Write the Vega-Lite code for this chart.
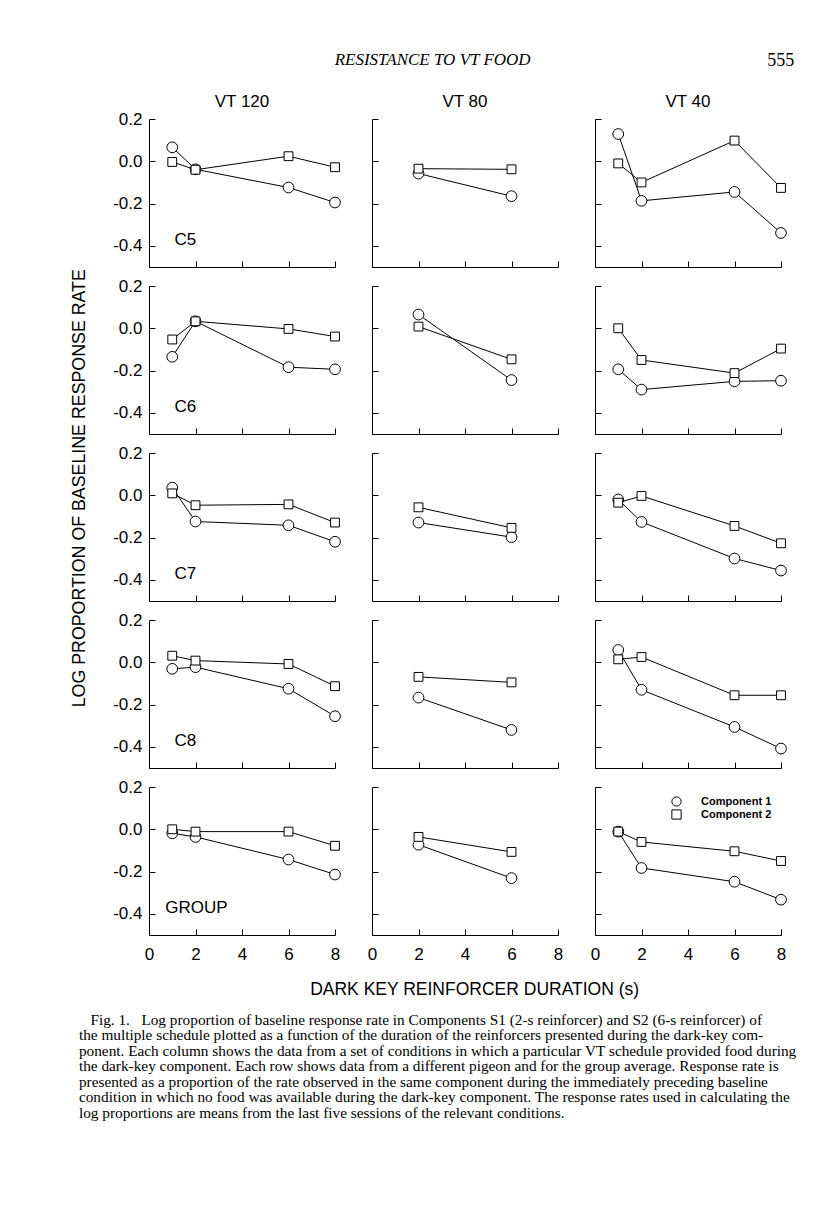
{
"$schema": "https://vega.github.io/schema/vega-lite/v6.json",
"autosize": {"type": "pad"},
"padding": {"left": 70, "top": 50, "right": 10, "bottom": 10},
"background": "white",
"datasets": {"pts": [
{"bird":"C5","vt":"VT 120","comp":"Component 1","dur":1,"lp":0.066},{"bird":"C5","vt":"VT 120","comp":"Component 1","dur":2,"lp":-0.038},{"bird":"C5","vt":"VT 120","comp":"Component 1","dur":6,"lp":-0.124},{"bird":"C5","vt":"VT 120","comp":"Component 1","dur":8,"lp":-0.195},
{"bird":"C5","vt":"VT 120","comp":"Component 2","dur":1,"lp":-0.003},{"bird":"C5","vt":"VT 120","comp":"Component 2","dur":2,"lp":-0.04},{"bird":"C5","vt":"VT 120","comp":"Component 2","dur":6,"lp":0.024},{"bird":"C5","vt":"VT 120","comp":"Component 2","dur":8,"lp":-0.028},
{"bird":"C5","vt":"VT 80","comp":"Component 1","dur":2,"lp":-0.058},{"bird":"C5","vt":"VT 80","comp":"Component 1","dur":6,"lp":-0.165},
{"bird":"C5","vt":"VT 80","comp":"Component 2","dur":2,"lp":-0.035},{"bird":"C5","vt":"VT 80","comp":"Component 2","dur":6,"lp":-0.038},
{"bird":"C5","vt":"VT 40","comp":"Component 1","dur":1,"lp":0.129},{"bird":"C5","vt":"VT 40","comp":"Component 1","dur":2,"lp":-0.187},{"bird":"C5","vt":"VT 40","comp":"Component 1","dur":6,"lp":-0.145},{"bird":"C5","vt":"VT 40","comp":"Component 1","dur":8,"lp":-0.339},
{"bird":"C5","vt":"VT 40","comp":"Component 2","dur":1,"lp":-0.01},{"bird":"C5","vt":"VT 40","comp":"Component 2","dur":2,"lp":-0.1},{"bird":"C5","vt":"VT 40","comp":"Component 2","dur":6,"lp":0.098},{"bird":"C5","vt":"VT 40","comp":"Component 2","dur":8,"lp":-0.126},
{"bird":"C6","vt":"VT 120","comp":"Component 1","dur":1,"lp":-0.135},{"bird":"C6","vt":"VT 120","comp":"Component 1","dur":2,"lp":0.033},{"bird":"C6","vt":"VT 120","comp":"Component 1","dur":6,"lp":-0.184},{"bird":"C6","vt":"VT 120","comp":"Component 1","dur":8,"lp":-0.194},
{"bird":"C6","vt":"VT 120","comp":"Component 2","dur":1,"lp":-0.053},{"bird":"C6","vt":"VT 120","comp":"Component 2","dur":2,"lp":0.033},{"bird":"C6","vt":"VT 120","comp":"Component 2","dur":6,"lp":-0.003},{"bird":"C6","vt":"VT 120","comp":"Component 2","dur":8,"lp":-0.039},
{"bird":"C6","vt":"VT 80","comp":"Component 1","dur":2,"lp":0.065},{"bird":"C6","vt":"VT 80","comp":"Component 1","dur":6,"lp":-0.245},
{"bird":"C6","vt":"VT 80","comp":"Component 2","dur":2,"lp":0.008},{"bird":"C6","vt":"VT 80","comp":"Component 2","dur":6,"lp":-0.147},
{"bird":"C6","vt":"VT 40","comp":"Component 1","dur":1,"lp":-0.194},{"bird":"C6","vt":"VT 40","comp":"Component 1","dur":2,"lp":-0.29},{"bird":"C6","vt":"VT 40","comp":"Component 1","dur":6,"lp":-0.251},{"bird":"C6","vt":"VT 40","comp":"Component 1","dur":8,"lp":-0.248},
{"bird":"C6","vt":"VT 40","comp":"Component 2","dur":1,"lp":0.0},{"bird":"C6","vt":"VT 40","comp":"Component 2","dur":2,"lp":-0.15},{"bird":"C6","vt":"VT 40","comp":"Component 2","dur":6,"lp":-0.212},{"bird":"C6","vt":"VT 40","comp":"Component 2","dur":8,"lp":-0.096},
{"bird":"C7","vt":"VT 120","comp":"Component 1","dur":1,"lp":0.036},{"bird":"C7","vt":"VT 120","comp":"Component 1","dur":2,"lp":-0.124},{"bird":"C7","vt":"VT 120","comp":"Component 1","dur":6,"lp":-0.142},{"bird":"C7","vt":"VT 120","comp":"Component 1","dur":8,"lp":-0.22},
{"bird":"C7","vt":"VT 120","comp":"Component 2","dur":1,"lp":0.009},{"bird":"C7","vt":"VT 120","comp":"Component 2","dur":2,"lp":-0.047},{"bird":"C7","vt":"VT 120","comp":"Component 2","dur":6,"lp":-0.043},{"bird":"C7","vt":"VT 120","comp":"Component 2","dur":8,"lp":-0.129},
{"bird":"C7","vt":"VT 80","comp":"Component 1","dur":2,"lp":-0.129},{"bird":"C7","vt":"VT 80","comp":"Component 1","dur":6,"lp":-0.198},
{"bird":"C7","vt":"VT 80","comp":"Component 2","dur":2,"lp":-0.057},{"bird":"C7","vt":"VT 80","comp":"Component 2","dur":6,"lp":-0.154},
{"bird":"C7","vt":"VT 40","comp":"Component 1","dur":1,"lp":-0.02},{"bird":"C7","vt":"VT 40","comp":"Component 1","dur":2,"lp":-0.126},{"bird":"C7","vt":"VT 40","comp":"Component 1","dur":6,"lp":-0.299},{"bird":"C7","vt":"VT 40","comp":"Component 1","dur":8,"lp":-0.356},
{"bird":"C7","vt":"VT 40","comp":"Component 2","dur":1,"lp":-0.035},{"bird":"C7","vt":"VT 40","comp":"Component 2","dur":2,"lp":-0.003},{"bird":"C7","vt":"VT 40","comp":"Component 2","dur":6,"lp":-0.145},{"bird":"C7","vt":"VT 40","comp":"Component 2","dur":8,"lp":-0.227},
{"bird":"C8","vt":"VT 120","comp":"Component 1","dur":1,"lp":-0.031},{"bird":"C8","vt":"VT 120","comp":"Component 1","dur":2,"lp":-0.023},{"bird":"C8","vt":"VT 120","comp":"Component 1","dur":6,"lp":-0.125},{"bird":"C8","vt":"VT 120","comp":"Component 1","dur":8,"lp":-0.255},
{"bird":"C8","vt":"VT 120","comp":"Component 2","dur":1,"lp":0.031},{"bird":"C8","vt":"VT 120","comp":"Component 2","dur":2,"lp":0.008},{"bird":"C8","vt":"VT 120","comp":"Component 2","dur":6,"lp":-0.008},{"bird":"C8","vt":"VT 120","comp":"Component 2","dur":8,"lp":-0.113},
{"bird":"C8","vt":"VT 80","comp":"Component 1","dur":2,"lp":-0.167},{"bird":"C8","vt":"VT 80","comp":"Component 1","dur":6,"lp":-0.32},
{"bird":"C8","vt":"VT 80","comp":"Component 2","dur":2,"lp":-0.069},{"bird":"C8","vt":"VT 80","comp":"Component 2","dur":6,"lp":-0.095},
{"bird":"C8","vt":"VT 40","comp":"Component 1","dur":1,"lp":0.058},{"bird":"C8","vt":"VT 40","comp":"Component 1","dur":2,"lp":-0.13},{"bird":"C8","vt":"VT 40","comp":"Component 1","dur":6,"lp":-0.306},{"bird":"C8","vt":"VT 40","comp":"Component 1","dur":8,"lp":-0.408},
{"bird":"C8","vt":"VT 40","comp":"Component 2","dur":1,"lp":0.014},{"bird":"C8","vt":"VT 40","comp":"Component 2","dur":2,"lp":0.025},{"bird":"C8","vt":"VT 40","comp":"Component 2","dur":6,"lp":-0.156},{"bird":"C8","vt":"VT 40","comp":"Component 2","dur":8,"lp":-0.156},
{"bird":"GROUP","vt":"VT 120","comp":"Component 1","dur":1,"lp":-0.019},{"bird":"GROUP","vt":"VT 120","comp":"Component 1","dur":2,"lp":-0.036},{"bird":"GROUP","vt":"VT 120","comp":"Component 1","dur":6,"lp":-0.143},{"bird":"GROUP","vt":"VT 120","comp":"Component 1","dur":8,"lp":-0.214},
{"bird":"GROUP","vt":"VT 120","comp":"Component 2","dur":1,"lp":0.0},{"bird":"GROUP","vt":"VT 120","comp":"Component 2","dur":2,"lp":-0.011},{"bird":"GROUP","vt":"VT 120","comp":"Component 2","dur":6,"lp":-0.011},{"bird":"GROUP","vt":"VT 120","comp":"Component 2","dur":8,"lp":-0.078},
{"bird":"GROUP","vt":"VT 80","comp":"Component 1","dur":2,"lp":-0.073},{"bird":"GROUP","vt":"VT 80","comp":"Component 1","dur":6,"lp":-0.231},
{"bird":"GROUP","vt":"VT 80","comp":"Component 2","dur":2,"lp":-0.036},{"bird":"GROUP","vt":"VT 80","comp":"Component 2","dur":6,"lp":-0.107},
{"bird":"GROUP","vt":"VT 40","comp":"Component 1","dur":1,"lp":-0.011},{"bird":"GROUP","vt":"VT 40","comp":"Component 1","dur":2,"lp":-0.183},{"bird":"GROUP","vt":"VT 40","comp":"Component 1","dur":6,"lp":-0.248},{"bird":"GROUP","vt":"VT 40","comp":"Component 1","dur":8,"lp":-0.333},
{"bird":"GROUP","vt":"VT 40","comp":"Component 2","dur":1,"lp":-0.011},{"bird":"GROUP","vt":"VT 40","comp":"Component 2","dur":2,"lp":-0.06},{"bird":"GROUP","vt":"VT 40","comp":"Component 2","dur":6,"lp":-0.104},{"bird":"GROUP","vt":"VT 40","comp":"Component 2","dur":8,"lp":-0.15}
]},
"config": {
 "view": {"stroke": null},
 "axis": {"domainColor": "black", "domainWidth": 1, "tickColor": "black", "tickWidth": 1, "tickSize": -6, "grid": false, "labelFont": "Liberation Sans", "labelFontSize": 17, "labelColor": "black", "labelFlush": false, "labelOverlap": false, "minExtent": 0},
 "axisY": {"labelPadding": 13},
 "axisX": {"labelPadding": 17},
 "title": {"font": "Liberation Sans", "fontSize": 17, "fontWeight": "normal", "color": "black"},
 "line": {"color": "black", "strokeWidth": 1},
 "text": {"font": "Liberation Sans", "fontSize": 17, "color": "black", "align": "left", "baseline": "middle"}
},
"title": {"text": [
 "\u200b\u00a0\u00a0\u00a0Fig. 1.\u00a0\u00a0 Log proportion of baseline response rate in Components S1 (2-s reinforcer) and S2 (6-s reinforcer) of",
 "the multiple schedule plotted as a function of the duration of the reinforcers presented during the dark-key com-",
 "ponent. Each column shows the data from a set of conditions in which a particular VT schedule provided food during",
 "the dark-key component. Each row shows data from a different pigeon and for the group average. Response rate is",
 "presented as a proportion of the rate observed in the same component during the immediately preceding baseline",
 "condition in which no food was available during the dark-key component. The response rates used in calculating the",
 "log proportions are means from the last five sessions of the relevant conditions."],
 "orient": "bottom", "anchor": "start", "font": "Liberation Serif", "fontSize": 15.3, "lineHeight": 15.5, "offset": 14, "dx": 8},
"vconcat": [{
 "title": {"text": "RESISTANCE TO VT FOOD", "anchor": "middle", "font": "Liberation Serif", "fontStyle": "italic", "fontSize": 17, "offset": 0, "dy": 17},
 "vconcat": [{
  "title": {"text": "555", "anchor": "end", "font": "Liberation Serif", "fontSize": 18, "offset": 23, "dx": 6},
  "vconcat": [{
   "title": {"text": "DARK KEY REINFORCER DURATION (s)", "orient": "bottom", "anchor": "middle", "fontSize": 17.5, "offset": 19, "dx": 45},
   "vconcat": [{
    "title": {"text": "LOG PROPORTION OF BASELINE RESPONSE RATE", "orient": "left", "anchor": "middle", "fontSize": 17.8, "offset": 24, "dx": 39},
    "columns": 3,
    "spacing": {"row": 19, "column": 37},
    "bounds": "flush",
    "resolve": {"scale": {"shape": "independent", "size": "independent"}, "legend": {"shape": "independent", "size": "independent"}},
    "concat": [
     {"width": 186, "height": 148, "title": {"text": "VT 120", "offset": -1},
      "data": {"name": "pts"}, "transform": [{"filter": "datum.bird==='C5' && datum.vt==='VT 120'"}],
      "encoding": {
       "x": {"field": "dur", "type": "quantitative", "scale": {"domain": [0, 8], "nice": false, "zero": false}, "axis": {"values": [0, 2, 4, 6, 8], "labels": false, "title": null}},
       "y": {"field": "lp", "type": "quantitative", "scale": {"domain": [-0.5, 0.2], "nice": false, "zero": false}, "axis": {"values": [-0.4, -0.2, 0, 0.2], "title": null, "labelExpr": "datum.value < 0 ? '-' + format(-datum.value, '.1f') : format(datum.value, '.1f')"}}},
      "layer": [
       {"mark": "line", "encoding": {"detail": {"field": "comp"}}},
       {"mark": {"type": "point", "filled": true, "fill": "white", "stroke": "black", "strokeWidth": 1, "opacity": 1}, "encoding": {"shape": {"field": "comp", "type": "nominal", "scale": {"domain": ["Component 1", "Component 2"], "range": ["circle", "square"]}, "legend": null}, "size": {"field": "comp", "type": "nominal", "scale": {"domain": ["Component 2", "Component 1"], "range": [78, 115]}, "legend": null}}},
       {"transform": [{"filter": "datum.dur===1 && datum.comp==='Component 1'"}], "mark": "text", "encoding": {"x": {"datum": 1.1, "type": "quantitative"}, "y": {"datum": -0.37, "type": "quantitative"}, "text": {"field": "bird", "type": "nominal"}}}
      ]},
     {"width": 186, "height": 148, "title": {"text": "VT 80", "offset": 8},
      "data": {"name": "pts"}, "transform": [{"filter": "datum.bird==='C5' && datum.vt==='VT 80'"}],
      "encoding": {
       "x": {"field": "dur", "type": "quantitative", "scale": {"domain": [0, 8], "nice": false, "zero": false}, "axis": {"values": [0, 2, 4, 6, 8], "labels": false, "title": null}},
       "y": {"field": "lp", "type": "quantitative", "scale": {"domain": [-0.5, 0.2], "nice": false, "zero": false}, "axis": {"values": [-0.4, -0.2, 0, 0.2], "labels": false, "title": null}}},
      "layer": [
       {"mark": "line", "encoding": {"detail": {"field": "comp"}}},
       {"mark": {"type": "point", "filled": true, "fill": "white", "stroke": "black", "strokeWidth": 1, "opacity": 1}, "encoding": {"shape": {"field": "comp", "type": "nominal", "scale": {"domain": ["Component 1", "Component 2"], "range": ["circle", "square"]}, "legend": null}, "size": {"field": "comp", "type": "nominal", "scale": {"domain": ["Component 2", "Component 1"], "range": [78, 115]}, "legend": null}}}
      ]},
     {"width": 186, "height": 148, "title": {"text": "VT 40", "offset": 8},
      "data": {"name": "pts"}, "transform": [{"filter": "datum.bird==='C5' && datum.vt==='VT 40'"}],
      "encoding": {
       "x": {"field": "dur", "type": "quantitative", "scale": {"domain": [0, 8], "nice": false, "zero": false}, "axis": {"values": [0, 2, 4, 6, 8], "labels": false, "title": null}},
       "y": {"field": "lp", "type": "quantitative", "scale": {"domain": [-0.5, 0.2], "nice": false, "zero": false}, "axis": {"values": [-0.4, -0.2, 0, 0.2], "labels": false, "title": null}}},
      "layer": [
       {"mark": "line", "encoding": {"detail": {"field": "comp"}}},
       {"mark": {"type": "point", "filled": true, "fill": "white", "stroke": "black", "strokeWidth": 1, "opacity": 1}, "encoding": {"shape": {"field": "comp", "type": "nominal", "scale": {"domain": ["Component 1", "Component 2"], "range": ["circle", "square"]}, "legend": null}, "size": {"field": "comp", "type": "nominal", "scale": {"domain": ["Component 2", "Component 1"], "range": [78, 115]}, "legend": null}}}
      ]},
     {"width": 186, "height": 148,
      "data": {"name": "pts"}, "transform": [{"filter": "datum.bird==='C6' && datum.vt==='VT 120'"}],
      "encoding": {
       "x": {"field": "dur", "type": "quantitative", "scale": {"domain": [0, 8], "nice": false, "zero": false}, "axis": {"values": [0, 2, 4, 6, 8], "labels": false, "title": null}},
       "y": {"field": "lp", "type": "quantitative", "scale": {"domain": [-0.5, 0.2], "nice": false, "zero": false}, "axis": {"values": [-0.4, -0.2, 0, 0.2], "title": null, "labelExpr": "datum.value < 0 ? '-' + format(-datum.value, '.1f') : format(datum.value, '.1f')"}}},
      "layer": [
       {"mark": "line", "encoding": {"detail": {"field": "comp"}}},
       {"mark": {"type": "point", "filled": true, "fill": "white", "stroke": "black", "strokeWidth": 1, "opacity": 1}, "encoding": {"shape": {"field": "comp", "type": "nominal", "scale": {"domain": ["Component 1", "Component 2"], "range": ["circle", "square"]}, "legend": null}, "size": {"field": "comp", "type": "nominal", "scale": {"domain": ["Component 2", "Component 1"], "range": [78, 115]}, "legend": null}}},
       {"transform": [{"filter": "datum.dur===1 && datum.comp==='Component 1'"}], "mark": "text", "encoding": {"x": {"datum": 1.1, "type": "quantitative"}, "y": {"datum": -0.37, "type": "quantitative"}, "text": {"field": "bird", "type": "nominal"}}}
      ]},
     {"width": 186, "height": 148,
      "data": {"name": "pts"}, "transform": [{"filter": "datum.bird==='C6' && datum.vt==='VT 80'"}],
      "encoding": {
       "x": {"field": "dur", "type": "quantitative", "scale": {"domain": [0, 8], "nice": false, "zero": false}, "axis": {"values": [0, 2, 4, 6, 8], "labels": false, "title": null}},
       "y": {"field": "lp", "type": "quantitative", "scale": {"domain": [-0.5, 0.2], "nice": false, "zero": false}, "axis": {"values": [-0.4, -0.2, 0, 0.2], "labels": false, "title": null}}},
      "layer": [
       {"mark": "line", "encoding": {"detail": {"field": "comp"}}},
       {"mark": {"type": "point", "filled": true, "fill": "white", "stroke": "black", "strokeWidth": 1, "opacity": 1}, "encoding": {"shape": {"field": "comp", "type": "nominal", "scale": {"domain": ["Component 1", "Component 2"], "range": ["circle", "square"]}, "legend": null}, "size": {"field": "comp", "type": "nominal", "scale": {"domain": ["Component 2", "Component 1"], "range": [78, 115]}, "legend": null}}}
      ]},
     {"width": 186, "height": 148,
      "data": {"name": "pts"}, "transform": [{"filter": "datum.bird==='C6' && datum.vt==='VT 40'"}],
      "encoding": {
       "x": {"field": "dur", "type": "quantitative", "scale": {"domain": [0, 8], "nice": false, "zero": false}, "axis": {"values": [0, 2, 4, 6, 8], "labels": false, "title": null}},
       "y": {"field": "lp", "type": "quantitative", "scale": {"domain": [-0.5, 0.2], "nice": false, "zero": false}, "axis": {"values": [-0.4, -0.2, 0, 0.2], "labels": false, "title": null}}},
      "layer": [
       {"mark": "line", "encoding": {"detail": {"field": "comp"}}},
       {"mark": {"type": "point", "filled": true, "fill": "white", "stroke": "black", "strokeWidth": 1, "opacity": 1}, "encoding": {"shape": {"field": "comp", "type": "nominal", "scale": {"domain": ["Component 1", "Component 2"], "range": ["circle", "square"]}, "legend": null}, "size": {"field": "comp", "type": "nominal", "scale": {"domain": ["Component 2", "Component 1"], "range": [78, 115]}, "legend": null}}}
      ]},
     {"width": 186, "height": 148,
      "data": {"name": "pts"}, "transform": [{"filter": "datum.bird==='C7' && datum.vt==='VT 120'"}],
      "encoding": {
       "x": {"field": "dur", "type": "quantitative", "scale": {"domain": [0, 8], "nice": false, "zero": false}, "axis": {"values": [0, 2, 4, 6, 8], "labels": false, "title": null}},
       "y": {"field": "lp", "type": "quantitative", "scale": {"domain": [-0.5, 0.2], "nice": false, "zero": false}, "axis": {"values": [-0.4, -0.2, 0, 0.2], "title": null, "labelExpr": "datum.value < 0 ? '-' + format(-datum.value, '.1f') : format(datum.value, '.1f')"}}},
      "layer": [
       {"mark": "line", "encoding": {"detail": {"field": "comp"}}},
       {"mark": {"type": "point", "filled": true, "fill": "white", "stroke": "black", "strokeWidth": 1, "opacity": 1}, "encoding": {"shape": {"field": "comp", "type": "nominal", "scale": {"domain": ["Component 1", "Component 2"], "range": ["circle", "square"]}, "legend": null}, "size": {"field": "comp", "type": "nominal", "scale": {"domain": ["Component 2", "Component 1"], "range": [78, 115]}, "legend": null}}},
       {"transform": [{"filter": "datum.dur===1 && datum.comp==='Component 1'"}], "mark": "text", "encoding": {"x": {"datum": 1.1, "type": "quantitative"}, "y": {"datum": -0.37, "type": "quantitative"}, "text": {"field": "bird", "type": "nominal"}}}
      ]},
     {"width": 186, "height": 148,
      "data": {"name": "pts"}, "transform": [{"filter": "datum.bird==='C7' && datum.vt==='VT 80'"}],
      "encoding": {
       "x": {"field": "dur", "type": "quantitative", "scale": {"domain": [0, 8], "nice": false, "zero": false}, "axis": {"values": [0, 2, 4, 6, 8], "labels": false, "title": null}},
       "y": {"field": "lp", "type": "quantitative", "scale": {"domain": [-0.5, 0.2], "nice": false, "zero": false}, "axis": {"values": [-0.4, -0.2, 0, 0.2], "labels": false, "title": null}}},
      "layer": [
       {"mark": "line", "encoding": {"detail": {"field": "comp"}}},
       {"mark": {"type": "point", "filled": true, "fill": "white", "stroke": "black", "strokeWidth": 1, "opacity": 1}, "encoding": {"shape": {"field": "comp", "type": "nominal", "scale": {"domain": ["Component 1", "Component 2"], "range": ["circle", "square"]}, "legend": null}, "size": {"field": "comp", "type": "nominal", "scale": {"domain": ["Component 2", "Component 1"], "range": [78, 115]}, "legend": null}}}
      ]},
     {"width": 186, "height": 148,
      "data": {"name": "pts"}, "transform": [{"filter": "datum.bird==='C7' && datum.vt==='VT 40'"}],
      "encoding": {
       "x": {"field": "dur", "type": "quantitative", "scale": {"domain": [0, 8], "nice": false, "zero": false}, "axis": {"values": [0, 2, 4, 6, 8], "labels": false, "title": null}},
       "y": {"field": "lp", "type": "quantitative", "scale": {"domain": [-0.5, 0.2], "nice": false, "zero": false}, "axis": {"values": [-0.4, -0.2, 0, 0.2], "labels": false, "title": null}}},
      "layer": [
       {"mark": "line", "encoding": {"detail": {"field": "comp"}}},
       {"mark": {"type": "point", "filled": true, "fill": "white", "stroke": "black", "strokeWidth": 1, "opacity": 1}, "encoding": {"shape": {"field": "comp", "type": "nominal", "scale": {"domain": ["Component 1", "Component 2"], "range": ["circle", "square"]}, "legend": null}, "size": {"field": "comp", "type": "nominal", "scale": {"domain": ["Component 2", "Component 1"], "range": [78, 115]}, "legend": null}}}
      ]},
     {"width": 186, "height": 148,
      "data": {"name": "pts"}, "transform": [{"filter": "datum.bird==='C8' && datum.vt==='VT 120'"}],
      "encoding": {
       "x": {"field": "dur", "type": "quantitative", "scale": {"domain": [0, 8], "nice": false, "zero": false}, "axis": {"values": [0, 2, 4, 6, 8], "labels": false, "title": null}},
       "y": {"field": "lp", "type": "quantitative", "scale": {"domain": [-0.5, 0.2], "nice": false, "zero": false}, "axis": {"values": [-0.4, -0.2, 0, 0.2], "title": null, "labelExpr": "datum.value < 0 ? '-' + format(-datum.value, '.1f') : format(datum.value, '.1f')"}}},
      "layer": [
       {"mark": "line", "encoding": {"detail": {"field": "comp"}}},
       {"mark": {"type": "point", "filled": true, "fill": "white", "stroke": "black", "strokeWidth": 1, "opacity": 1}, "encoding": {"shape": {"field": "comp", "type": "nominal", "scale": {"domain": ["Component 1", "Component 2"], "range": ["circle", "square"]}, "legend": null}, "size": {"field": "comp", "type": "nominal", "scale": {"domain": ["Component 2", "Component 1"], "range": [78, 115]}, "legend": null}}},
       {"transform": [{"filter": "datum.dur===1 && datum.comp==='Component 1'"}], "mark": "text", "encoding": {"x": {"datum": 1.1, "type": "quantitative"}, "y": {"datum": -0.37, "type": "quantitative"}, "text": {"field": "bird", "type": "nominal"}}}
      ]},
     {"width": 186, "height": 148,
      "data": {"name": "pts"}, "transform": [{"filter": "datum.bird==='C8' && datum.vt==='VT 80'"}],
      "encoding": {
       "x": {"field": "dur", "type": "quantitative", "scale": {"domain": [0, 8], "nice": false, "zero": false}, "axis": {"values": [0, 2, 4, 6, 8], "labels": false, "title": null}},
       "y": {"field": "lp", "type": "quantitative", "scale": {"domain": [-0.5, 0.2], "nice": false, "zero": false}, "axis": {"values": [-0.4, -0.2, 0, 0.2], "labels": false, "title": null}}},
      "layer": [
       {"mark": "line", "encoding": {"detail": {"field": "comp"}}},
       {"mark": {"type": "point", "filled": true, "fill": "white", "stroke": "black", "strokeWidth": 1, "opacity": 1}, "encoding": {"shape": {"field": "comp", "type": "nominal", "scale": {"domain": ["Component 1", "Component 2"], "range": ["circle", "square"]}, "legend": null}, "size": {"field": "comp", "type": "nominal", "scale": {"domain": ["Component 2", "Component 1"], "range": [78, 115]}, "legend": null}}}
      ]},
     {"width": 186, "height": 148,
      "data": {"name": "pts"}, "transform": [{"filter": "datum.bird==='C8' && datum.vt==='VT 40'"}],
      "encoding": {
       "x": {"field": "dur", "type": "quantitative", "scale": {"domain": [0, 8], "nice": false, "zero": false}, "axis": {"values": [0, 2, 4, 6, 8], "labels": false, "title": null}},
       "y": {"field": "lp", "type": "quantitative", "scale": {"domain": [-0.5, 0.2], "nice": false, "zero": false}, "axis": {"values": [-0.4, -0.2, 0, 0.2], "labels": false, "title": null}}},
      "layer": [
       {"mark": "line", "encoding": {"detail": {"field": "comp"}}},
       {"mark": {"type": "point", "filled": true, "fill": "white", "stroke": "black", "strokeWidth": 1, "opacity": 1}, "encoding": {"shape": {"field": "comp", "type": "nominal", "scale": {"domain": ["Component 1", "Component 2"], "range": ["circle", "square"]}, "legend": null}, "size": {"field": "comp", "type": "nominal", "scale": {"domain": ["Component 2", "Component 1"], "range": [78, 115]}, "legend": null}}}
      ]},
     {"width": 186, "height": 148,
      "data": {"name": "pts"}, "transform": [{"filter": "datum.bird==='GROUP' && datum.vt==='VT 120'"}],
      "encoding": {
       "x": {"field": "dur", "type": "quantitative", "scale": {"domain": [0, 8], "nice": false, "zero": false}, "axis": {"values": [0, 2, 4, 6, 8], "format": "d", "title": null}},
       "y": {"field": "lp", "type": "quantitative", "scale": {"domain": [-0.5, 0.2], "nice": false, "zero": false}, "axis": {"values": [-0.4, -0.2, 0, 0.2], "title": null, "labelExpr": "datum.value < 0 ? '-' + format(-datum.value, '.1f') : format(datum.value, '.1f')"}}},
      "layer": [
       {"mark": "line", "encoding": {"detail": {"field": "comp"}}},
       {"mark": {"type": "point", "filled": true, "fill": "white", "stroke": "black", "strokeWidth": 1, "opacity": 1}, "encoding": {"shape": {"field": "comp", "type": "nominal", "scale": {"domain": ["Component 1", "Component 2"], "range": ["circle", "square"]}, "legend": null}, "size": {"field": "comp", "type": "nominal", "scale": {"domain": ["Component 2", "Component 1"], "range": [78, 115]}, "legend": null}}},
       {"transform": [{"filter": "datum.dur===1 && datum.comp==='Component 1'"}], "mark": "text", "encoding": {"x": {"datum": 0.7, "type": "quantitative"}, "y": {"datum": -0.37, "type": "quantitative"}, "text": {"field": "bird", "type": "nominal"}}}
      ]},
     {"width": 186, "height": 148,
      "data": {"name": "pts"}, "transform": [{"filter": "datum.bird==='GROUP' && datum.vt==='VT 80'"}],
      "encoding": {
       "x": {"field": "dur", "type": "quantitative", "scale": {"domain": [0, 8], "nice": false, "zero": false}, "axis": {"values": [0, 2, 4, 6, 8], "format": "d", "title": null}},
       "y": {"field": "lp", "type": "quantitative", "scale": {"domain": [-0.5, 0.2], "nice": false, "zero": false}, "axis": {"values": [-0.4, -0.2, 0, 0.2], "labels": false, "title": null}}},
      "layer": [
       {"mark": "line", "encoding": {"detail": {"field": "comp"}}},
       {"mark": {"type": "point", "filled": true, "fill": "white", "stroke": "black", "strokeWidth": 1, "opacity": 1}, "encoding": {"shape": {"field": "comp", "type": "nominal", "scale": {"domain": ["Component 1", "Component 2"], "range": ["circle", "square"]}, "legend": null}, "size": {"field": "comp", "type": "nominal", "scale": {"domain": ["Component 2", "Component 1"], "range": [78, 115]}, "legend": null}}}
      ]},
     {"width": 186, "height": 148,
      "data": {"name": "pts"}, "transform": [{"filter": "datum.bird==='GROUP' && datum.vt==='VT 40'"}],
      "encoding": {
       "x": {"field": "dur", "type": "quantitative", "scale": {"domain": [0, 8], "nice": false, "zero": false}, "axis": {"values": [0, 2, 4, 6, 8], "format": "d", "title": null}},
       "y": {"field": "lp", "type": "quantitative", "scale": {"domain": [-0.5, 0.2], "nice": false, "zero": false}, "axis": {"values": [-0.4, -0.2, 0, 0.2], "labels": false, "title": null}}},
      "layer": [
       {"mark": "line", "encoding": {"detail": {"field": "comp"}}},
       {"mark": {"type": "point", "filled": true, "fill": "white", "stroke": "black", "strokeWidth": 1, "opacity": 1}, "encoding": {
         "shape": {"field": "comp", "type": "nominal", "scale": {"domain": ["Component 1", "Component 2"], "range": ["circle", "square"]}, "legend": {"title": null, "orient": "top-right", "offset": 9, "symbolSize": 85, "symbolStrokeWidth": 1, "symbolOpacity": 1, "labelFont": "Liberation Sans", "labelFontSize": 11, "labelFontWeight": "bold", "labelColor": "black", "labelOffset": 19, "rowPadding": -6}},
         "size": {"field": "comp", "type": "nominal", "scale": {"domain": ["Component 2", "Component 1"], "range": [78, 115]}, "legend": null}}}
      ]}
    ]
   }]
  }]
 }]
}]
}
